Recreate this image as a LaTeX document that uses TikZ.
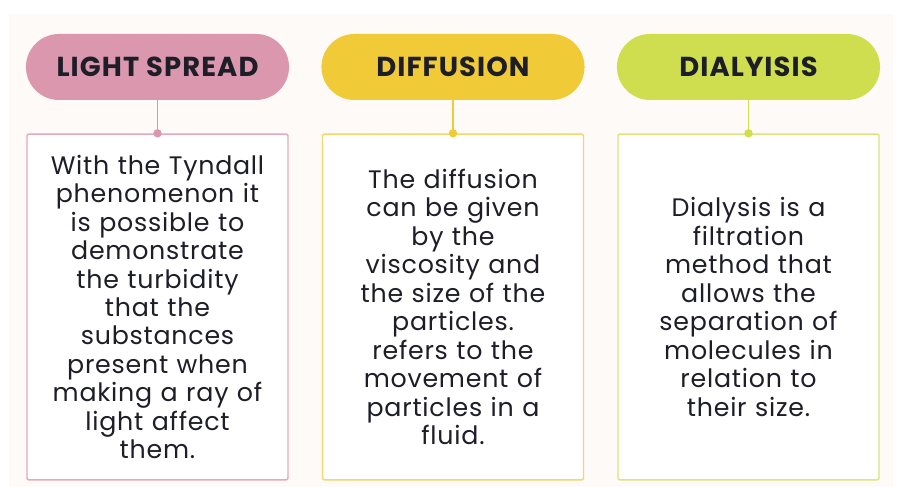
\documentclass[tikz,border=0pt]{standalone}
\usepackage{fontspec}
\setmainfont{Poppins}
\newfontfamily\bodyfont[LetterSpace=3]{Poppins}
\newfontfamily\headfont[LetterSpace=4]{Poppins}
\definecolor{cream}{HTML}{FEFAF7}
\definecolor{pinkfill}{HTML}{DB97AE}
\definecolor{pinkline}{HTML}{E5A9BD}
\definecolor{yellowfill}{HTML}{F0CB37}
\definecolor{yellowline}{HTML}{F4D66A}
\definecolor{greenfill}{HTML}{CFDE4E}
\definecolor{greenline}{HTML}{DAE57C}
\definecolor{inktext}{HTML}{1E1E28}
\begin{document}
\begin{tikzpicture}[
    head/.style={rounded corners=1.1cm, minimum width=8.77cm, minimum height=2.2cm,
                 font=\headfont\fontsize{26}{30}\selectfont\bfseries, text=inktext},
    card/.style={draw, line width=1.4pt, fill=white, rounded corners=2pt,
                 minimum width=8.7cm, minimum height=11.53cm, text width=8.2cm,
                 align=center, font=\bodyfont\fontsize{24}{27}\selectfont, text=inktext},
    link/.style={line width=1.6pt}]

  % ---- background panel, page margins kept
  \useasboundingbox (0,0) rectangle (29.967,-16.233);
  \fill[cream] (0.3,-0.467) rectangle (29.77,-16.233);

  % ---- the three headings
  \node[head, fill=pinkfill]   (lsHead) at (5.25,-2.233)  {LIGHT SPREAD};
  \node[head, fill=yellowfill] (dfHead) at (15.1,-2.233)  {DIFFUSION};
  \node[head, fill=greenfill]  (dyHead) at (24.95,-2.233) {DIALYISIS};

  % ---- the three cards
  \node[card, draw=pinkline] (lsBox) at (5.25,-10.233)
    {With the Tyndall\\phenomenon it\\is possible to\\demonstrate\\the turbidity\\that the\\substances\\present when\\making a ray of\\light affect\\them.};
  \node[card, draw=yellowline] (dfBox) at (15.1,-10.233)
    {The diffusion\\can be given\\by the\\viscosity and\\the size of the\\particles.\\refers to the\\movement of\\particles in a\\fluid.};
  \node[card, draw=greenline] (dyBox) at (24.95,-10.233)
    {Dialysis is a\\filtration\\method that\\allows the\\separation of\\molecules in\\relation to\\their size.};

  % ---- heading to card, with a dot where it lands
  \draw[link, pinkfill]   (lsHead) -- (lsBox);
  \draw[link, yellowfill] (dfHead) -- (dfBox);
  \draw[link, greenfill]  (dyHead) -- (dyBox);
  \fill[pinkfill]   (lsBox.north) circle (0.14);
  \fill[yellowfill] (dfBox.north) circle (0.14);
  \fill[greenfill]  (dyBox.north) circle (0.14);
\end{tikzpicture}
\end{document}
